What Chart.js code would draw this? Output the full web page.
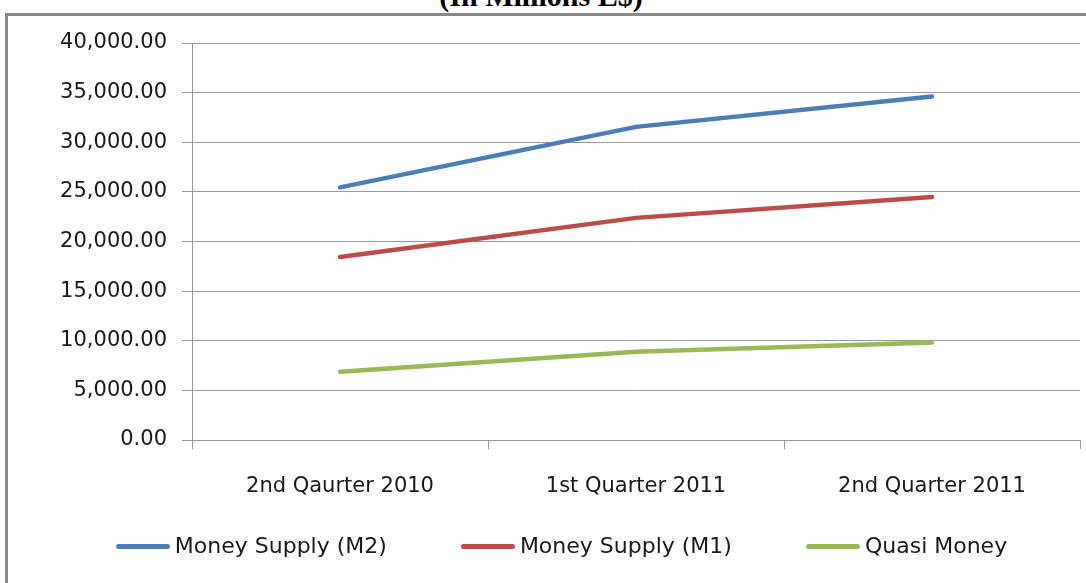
<!DOCTYPE html>
<html>
<head>
<meta charset="utf-8">
<script src="https://cdn.jsdelivr.net/npm/chart.js@4.4.1/dist/chart.umd.min.js"></script>
<style>
  html, body { margin: 0; padding: 0; background: #fff; overflow: hidden; }
  #wrap { position: relative; width: 1086px; height: 583px; overflow: hidden; }
  #frame { position: absolute; left: 5px; top: 13px; width: 2000px; height: 2000px;
           border-left: 3px solid #898989; border-top: 3px solid #898989; box-sizing: border-box; }
  #title { position: absolute; left: 0; width: 1082px; top: -19px; text-align: center;
           font-family: "Liberation Serif", "Times New Roman", serif; font-weight: bold;
           font-size: 30px; line-height: 30px; color: #000; white-space: nowrap; }
  #chart { position: absolute; left: 0; top: 0; }
  #legend { position: absolute; left: 0; width: 1123px; top: 532px; display: flex;
            justify-content: center; gap: 74px; font-family: "DejaVu Sans", sans-serif;
            font-size: 22px; color: #1a1a1a; line-height: 28px; white-space: nowrap; }
  .item { display: flex; align-items: center; flex-shrink: 0; }
  .mark { flex: 0 0 54px; width: 54px; height: 5px; border-radius: 3px; margin-right: 5px; }
</style>
</head>
<body>
<div id="wrap">
  <div id="frame"></div>
  <div id="title">(In Millions L$)</div>
  <canvas id="chart" width="1086" height="583"></canvas>
  <div id="legend"></div>
</div>
<script>
// ---- data ----
const categories = ["2nd Qaurter 2010", "1st Quarter 2011", "2nd Quarter 2011"];
const seriesNames = ["Money Supply (M2)", "Money Supply (M1)", "Quasi Money"];
const m2Values = [25450, 31550, 34600];
const m1Values = [18440, 22380, 24480];
const quasiValues = [6880, 8900, 9820];
const yTickValues = [0, 5000, 10000, 15000, 20000, 25000, 30000, 35000, 40000];
const seriesColors = ["#4a7ebb", "#be4b48", "#98b954"];

const seriesValues = [m2Values, m1Values, quasiValues];
const gridColor = "#999999";
const tickFont = { family: "DejaVu Sans", size: 21 };

const chart = new Chart(document.getElementById("chart"), {
  type: "line",
  data: {
    labels: categories,
    datasets: seriesNames.map((name, i) => ({
      label: name,
      data: seriesValues[i],
      borderColor: seriesColors[i],
      backgroundColor: seriesColors[i],
      borderWidth: 4.5,
      borderCapStyle: "round",
      borderJoinStyle: "round",
      pointRadius: 0,
      pointHoverRadius: 0,
      tension: 0,
      fill: false
    }))
  },
  options: {
    responsive: false,
    animation: false,
    events: [],
    layout: { padding: { top: 43, right: 6, left: 0, bottom: 0 } },
    plugins: {
      legend: { display: false },
      title: { display: false },
      tooltip: { enabled: false }
    },
    scales: {
      x: {
        type: "category",
        offset: true,
        afterFit: (s) => { s.height = 143; },
        grid: { offset: true, drawOnChartArea: false, drawTicks: true, tickLength: 9, color: gridColor, lineWidth: 1 },
        border: { color: gridColor, width: 1 },
        ticks: { font: tickFont, color: "#1a1a1a", padding: 25, maxRotation: 0, autoSkip: false }
      },
      y: {
        min: 0,
        max: 40000,
        afterFit: (s) => { s.width = 192; },
        afterBuildTicks: (s) => { s.ticks = yTickValues.map(v => ({ value: v })); },
        grid: { color: gridColor, lineWidth: 1, tickLength: 10, drawTicks: true },
        border: { color: gridColor, width: 1 },
        ticks: {
          font: tickFont, color: "#1a1a1a", padding: 15,
          callback: (v) => Number(v).toLocaleString("en-US", { minimumFractionDigits: 2, maximumFractionDigits: 2 })
        }
      }
    }
  }
});

// HTML legend built from the chart's datasets
const legend = document.getElementById("legend");
chart.data.datasets.forEach(ds => {
  const item = document.createElement("div");
  item.className = "item";
  const mark = document.createElement("span");
  mark.className = "mark";
  mark.style.background = ds.borderColor;
  const txt = document.createElement("span");
  txt.textContent = ds.label;
  item.appendChild(mark);
  item.appendChild(txt);
  legend.appendChild(item);
});
</script>
</body>
</html>
